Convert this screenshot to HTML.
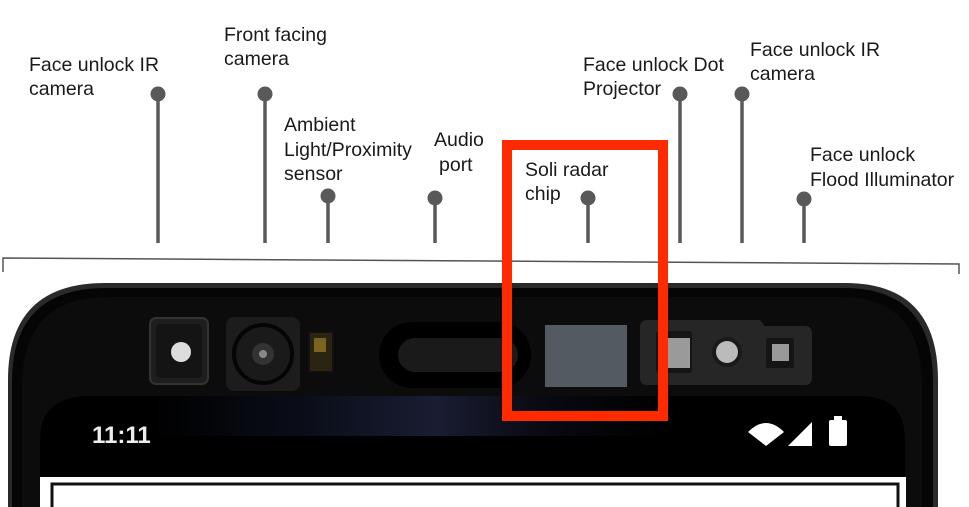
<!DOCTYPE html>
<html><head><meta charset="utf-8"><style>
html,body{margin:0;padding:0;background:#fff;width:969px;height:507px;overflow:hidden}
text{font-family:"Liberation Sans",sans-serif;font-size:19.5px;fill:#1a1a1a}
</style></head><body>
<svg width="969" height="507" viewBox="0 0 969 507" xmlns="http://www.w3.org/2000/svg">
<defs>
<linearGradient id="glow" x1="0" x2="1" y1="0" y2="0">
<stop offset="0" stop-color="#000"/><stop offset="0.3" stop-color="#0c0f1c"/><stop offset="0.55" stop-color="#1c2038"/><stop offset="0.75" stop-color="#0a0b14"/><stop offset="1" stop-color="#000"/>
</linearGradient>
</defs>
<polyline points="3,272 3,258 959,264 959,274" fill="none" stroke="#555" stroke-width="1.5"/>
<path d="M8,507 L8,380 Q8,283 105,283 L845,283 Q938,283 938,380 L938,507 Z" fill="#2a2a2a"/>
<path d="M12,507 L12,382 Q12,288 106,288 L844,288 Q933,288 933,382 L933,507 Z" fill="#050505"/>
<path d="M22,507 L22,386 Q22,297 108,297 L842,297 Q922,297 922,386 L922,507 Z" fill="#0c0c0c"/>
<path d="M40,507 L40,440 Q40,396 90,396 L860,396 Q905,396 905,440 L905,507 Z" fill="#000"/>
<rect x="150" y="396" width="520" height="40" fill="url(#glow)" opacity="0.9"/>
<rect x="40" y="477" width="866" height="30" fill="#fff"/>
<rect x="52" y="484" width="846" height="30" fill="none" stroke="#111" stroke-width="3"/>
<rect x="150" y="318" width="58" height="66" rx="6" fill="#1e1e1e" stroke="#333" stroke-width="2"/>
<rect x="156" y="324" width="46" height="54" rx="5" fill="#141414"/>
<circle cx="181" cy="352" r="10" fill="#ddd"/>
<rect x="226" y="317" width="74" height="74" rx="8" fill="#1c1c1c"/>
<circle cx="263" cy="354" r="29" fill="#1a1a1a" stroke="#050505" stroke-width="4"/>
<circle cx="263" cy="354" r="11" fill="#333"/>
<circle cx="263" cy="354" r="4" fill="#888"/>
<rect x="309" y="332" width="24" height="40" fill="#2a2410" stroke="#111" stroke-width="2"/>
<rect x="314" y="338" width="12" height="14" fill="#7a6420"/>
<rect x="379" y="322" width="152" height="66" rx="33" fill="#000"/>
<rect x="398" y="338" width="120" height="34" rx="17" fill="#1a1a1a"/>
<rect x="545" y="325" width="82" height="62" fill="#535a62"/>
<path d="M648,320 L760,320 L765,326 L805,326 Q812,326 812,333 L812,378 Q812,385 805,385 L647,385 Q640,385 640,378 L640,327 Q640,320 648,320 Z" fill="#262626"/>
<rect x="656" y="331" width="36" height="42" rx="3" fill="#151515"/>
<rect x="668" y="338" width="22" height="30" fill="#9a9a9a"/>
<circle cx="727" cy="352" r="15" fill="#1a1a1a"/>
<circle cx="727" cy="352" r="11" fill="#bbb"/>
<rect x="766" y="338" width="28" height="30" rx="2" fill="#151515"/>
<rect x="772" y="344" width="17" height="17" fill="#999"/>
<text x="92" y="443" style="font-size:24px;font-weight:bold;fill:#eee">11:11</text>
<path d="M748,432 Q766,414 784,432 L766,446 Z" fill="#fff"/>
<path d="M788,446 L812,422 L812,446 Z" fill="#fff"/>
<rect x="829" y="420" width="18" height="26" rx="2" fill="#fff"/>
<rect x="834" y="416" width="8" height="5" fill="#fff"/>
<rect x="507" y="145" width="156" height="271" fill="none" stroke="#ff2a00" stroke-width="10"/>
<g stroke="#595959" stroke-width="3.5" fill="#595959">
<line x1="158" y1="94" x2="158" y2="243"/><circle cx="158" cy="94" r="7.5" stroke="none"/>
<line x1="265" y1="94" x2="265" y2="243"/><circle cx="265" cy="94" r="7.5" stroke="none"/>
<line x1="328" y1="196" x2="328" y2="243"/><circle cx="328" cy="196" r="7.5" stroke="none"/>
<line x1="435" y1="198" x2="435" y2="243"/><circle cx="435" cy="198" r="7.5" stroke="none"/>
<line x1="588" y1="198" x2="588" y2="243"/><circle cx="588" cy="198" r="7.5" stroke="none"/>
<line x1="680" y1="94" x2="680" y2="243"/><circle cx="680" cy="94" r="7.5" stroke="none"/>
<line x1="742" y1="94" x2="742" y2="243"/><circle cx="742" cy="94" r="7.5" stroke="none"/>
<line x1="804" y1="199" x2="804" y2="243"/><circle cx="804" cy="199" r="7.5" stroke="none"/>
</g>
<text x="29" y="71">Face unlock IR</text><text x="29" y="95">camera</text>
<text x="224" y="41">Front facing</text><text x="224" y="65">camera</text>
<text x="284" y="131">Ambient</text><text x="284" y="156">Light/Proximity</text><text x="284" y="180">sensor</text>
<text x="434" y="146">Audio</text><text x="439" y="171">port</text>
<text x="525" y="176">Soli radar</text><text x="525" y="200">chip</text>
<text x="583" y="71">Face unlock Dot</text><text x="583" y="95">Projector</text>
<text x="750" y="56">Face unlock IR</text><text x="750" y="80">camera</text>
<text x="810" y="161">Face unlock</text><text x="810" y="186">Flood Illuminator</text>
</svg>
</body></html>
